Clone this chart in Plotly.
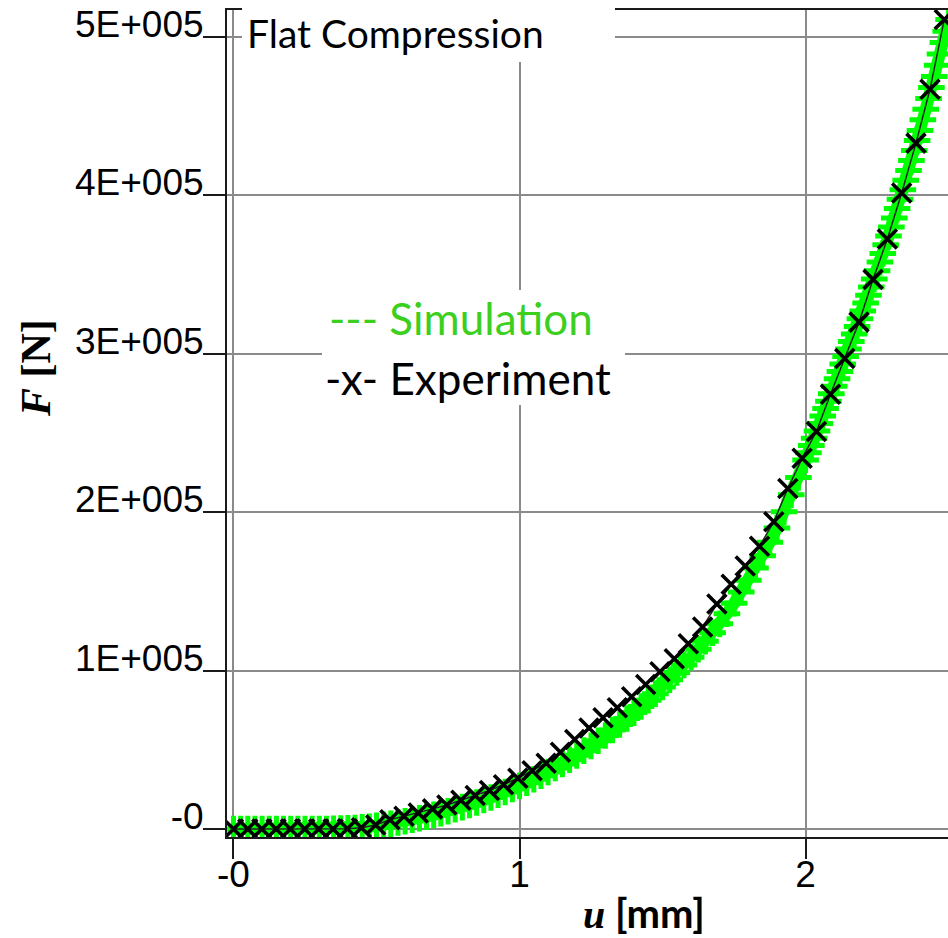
import plotly.graph_objects as go

# ---------------- data ----------------
exp_u = [0.000, 0.050, 0.099, 0.149, 0.199, 0.249, 0.298, 0.348, 0.398, 0.447,
         0.497, 0.547, 0.596, 0.646, 0.696, 0.746, 0.795, 0.845, 0.895, 0.944,
         0.994, 1.044, 1.093, 1.143, 1.193, 1.243, 1.292, 1.342, 1.392, 1.441,
         1.491, 1.541, 1.590, 1.640, 1.690, 1.740, 1.789, 1.839, 1.889, 1.938,
         1.988, 2.038, 2.087, 2.137, 2.187, 2.236, 2.286, 2.336, 2.386, 2.435,
         2.485]
exp_F = [0, 0, 0, 0, 0, 0, 0, 0, 200, 800,
         2500, 5800, 8000, 10100, 12700, 15100, 18100, 21100, 24300, 28000,
         32000, 36800, 41500, 48500, 56500, 63800, 70300, 76600, 83500, 91200,
         99300, 107500, 117000, 127500, 142000, 154500, 166000, 178500, 194000, 215000,
         234000, 251000, 274500, 297000, 320000, 347000, 372500, 401500, 433000, 467000,
         511000]

sim_u = [0.000, 0.025, 0.050, 0.075, 0.100, 0.125, 0.150, 0.175, 0.200, 0.225,
         0.250, 0.275, 0.300, 0.325, 0.350, 0.375, 0.400, 0.425, 0.450, 0.475,
         0.500, 0.525, 0.550, 0.575, 0.600, 0.625, 0.650, 0.675, 0.700, 0.725,
         0.750, 0.775, 0.800, 0.825, 0.850, 0.875, 0.900, 0.925, 0.950, 0.975,
         1.000, 1.025, 1.050, 1.075, 1.100, 1.125, 1.150, 1.175, 1.200, 1.225,
         1.250, 1.275, 1.300, 1.325, 1.350, 1.375, 1.400, 1.425, 1.450, 1.475,
         1.500, 1.525, 1.550, 1.575, 1.600, 1.625, 1.650, 1.675, 1.700, 1.725,
         1.750, 1.775, 1.800, 1.825, 1.850, 1.875, 1.900, 1.925, 1.950, 1.975,
         2.000, 2.010, 2.020, 2.030, 2.040, 2.050, 2.060, 2.070, 2.080, 2.090,
         2.100, 2.110, 2.120, 2.130, 2.140, 2.150, 2.160, 2.170, 2.180, 2.190,
         2.200, 2.210, 2.220, 2.230, 2.240, 2.250, 2.260, 2.270, 2.280, 2.290,
         2.300, 2.310, 2.320, 2.330, 2.340, 2.350, 2.360, 2.370, 2.380, 2.390,
         2.400, 2.410, 2.420, 2.430, 2.440, 2.450, 2.460, 2.470, 2.480, 2.490,
         2.500]
sim_F = [0, 0, 0, 0, 0, 0, 0, 0, 0, 0,
         0, 0, 0, 30, 100, 220, 400, 670, 1000, 1450,
         2000, 2620, 3300, 4070, 4900, 5820, 6800, 7830, 8900, 10030,
         11200, 12470, 13800, 15220, 16700, 18270, 19900, 21620, 23400, 25270,
         27200, 29270, 31400, 33670, 36000, 38470, 41000, 43720, 46500, 49470,
         52500, 55720, 59000, 62470, 66000, 69720, 73500, 77370, 81300, 85450,
         89700, 94200, 98800, 103600, 108500, 113450, 118500, 123900, 129500, 135900,
         142500, 149700, 157000, 164700, 172500, 181100, 190000, 200300, 211000, 221900,
         233000, 237500, 242100, 246700, 251300, 256000, 260700, 265400, 270100, 274800,
         279500, 284200, 288900, 293600, 298300, 303000, 307700, 312500, 317300, 322100,
         327000, 332000, 337000, 342100, 347300, 352500, 357900, 363300, 368800, 374400,
         380000, 385800, 391700, 397600, 403500, 409500, 415700, 422000, 428300, 434600,
         441000, 447700, 454400, 461200, 468100, 475000, 482100, 489300, 496500, 503700,
         511000]

x_tickvals = [0, 1, 2]
x_ticktext = ["-0", "1", "2"]
y_tickvals = [0, 100000, 200000, 300000, 400000, 500000]
y_ticktext = ["-0", "1E+005", "2E+005", "3E+005", "4E+005", "5E+005"]

# ---------------- figure ----------------
W, H = 948, 938
L, R, T, B = 227, 0, 10, 101
PW, PH = W - L - R, H - T - B

def px(xp):
    return (xp - L) / PW

def py(yp):
    return (H - B - yp) / PH

fig = go.Figure()

fig.add_trace(go.Scatter(
    x=sim_u, y=sim_F, mode="lines+markers", name="Simulation",
    line=dict(color="#00ff00", width=12),
    marker=dict(symbol="cross-thin", size=19, color="#00ff00",
                line=dict(color="#00ff00", width=5)),
    cliponaxis=True, showlegend=False))

fig.add_trace(go.Scatter(
    x=exp_u, y=exp_F, mode="lines+markers", name="Experiment",
    line=dict(color="#222222", width=1.5),
    marker=dict(symbol="x-thin", size=19, color="#000000",
                line=dict(color="#000000", width=3.6)),
    cliponaxis=True, showlegend=False))

tickfont = dict(family="Liberation Sans, Arial, sans-serif", size=37, color="#000000")

fig.update_xaxes(
    range=[-0.0227, 2.498], tickvals=x_tickvals, ticktext=x_ticktext,
    showgrid=True, gridcolor="#8a8a8a", gridwidth=2, zeroline=False,
    showline=True, linecolor="#1a1a1a", linewidth=2, mirror=True,
    ticks="outside", ticklen=20, tickwidth=2, tickcolor="#1a1a1a",
    tickfont=tickfont, ticklabelstandoff=-16)
fig.update_yaxes(
    range=[-5050, 517050], tickvals=y_tickvals, ticktext=y_ticktext,
    showgrid=True, gridcolor="#8a8a8a", gridwidth=2, zeroline=False,
    showline=True, linecolor="#1a1a1a", linewidth=2, mirror=False,
    ticks="outside", ticklen=22, tickwidth=2, tickcolor="#1a1a1a",
    tickfont=tickfont, ticklabelshift=-13, ticklabelstandoff=-8)

# white boxes
fig.add_shape(type="rect", xref="paper", yref="paper", layer="above",
              x0=px(242), x1=px(615), y0=py(62), y1=py(1),
              fillcolor="white", line=dict(width=0))
fig.add_shape(type="rect", xref="paper", yref="paper", layer="above",
              x0=px(322), x1=px(625), y0=py(405), y1=py(290),
              fillcolor="white", line=dict(width=0))

txtfont = "Lato, Open Sans, sans-serif"
fig.add_annotation(x=px(245), y=py(33), xref="paper", yref="paper",
                   xanchor="left", yanchor="middle", showarrow=False,
                   text="Flat Compression",
                   font=dict(family=txtfont, size=39, color="#000000"))
fig.add_annotation(x=px(461), y=py(318), xref="paper", yref="paper",
                   xanchor="center", yanchor="middle", showarrow=False,
                   text="--- Simulation",
                   font=dict(family=txtfont, size=44, color="#3ccf1e"))
fig.add_annotation(x=px(468), y=py(378), xref="paper", yref="paper",
                   xanchor="center", yanchor="middle", showarrow=False,
                   text="-x- Experiment",
                   font=dict(family=txtfont, size=44, color="#000000"))

# axis titles
fig.add_annotation(x=px(36), y=py(368), xref="paper", yref="paper",
                   xanchor="center", yanchor="middle", showarrow=False,
                   textangle=-90, text="<b><i>F</i> [N]</b>",
                   font=dict(family="Liberation Serif, Times New Roman, serif", size=42, color="#000000"))
fig.add_annotation(x=px(644), y=py(913), xref="paper", yref="paper",
                   xanchor="center", yanchor="middle", showarrow=False,
                   text="<b><i style='font-family:Liberation Serif'>u</i> [mm]</b>",
                   font=dict(family=txtfont, size=40, color="#000000"))

fig.update_layout(
    width=W, height=H, margin=dict(l=L, r=R, t=T, b=B, pad=0),
    paper_bgcolor="white", plot_bgcolor="white", showlegend=False)

fig.write_html("out.html")
